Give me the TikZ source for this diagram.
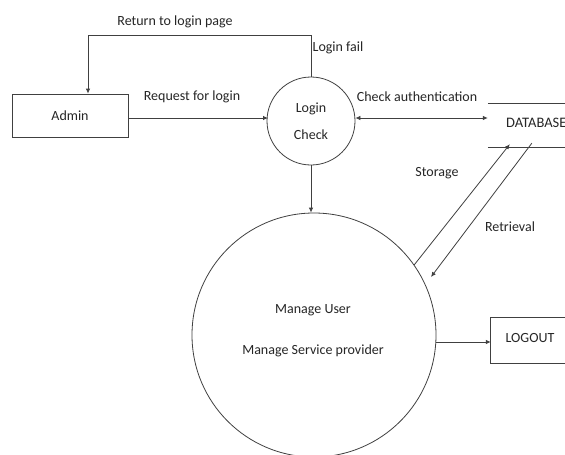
\documentclass[tikz,border=0pt]{standalone}
\usepackage{fontspec}
\setmainfont{Carlito}
\usetikzlibrary{arrows.meta}
\begin{document}
\begin{tikzpicture}[x=1pt,y=-1pt,
  every node/.style={text=black!85, font=\fontsize{14}{16}\selectfont},
  line/.style={draw=black!75, line width=0.8pt},
  arr/.style={line, -{Latex[length=5pt,width=4.5pt]}},
  darr/.style={line, {Latex[length=5pt,width=4.5pt]}-{Latex[length=5pt,width=4.5pt]}},
  lbl/.style={inner sep=0pt}]
\useasboundingbox (0,0) rectangle (565,455);
\fill[white] (0,0) rectangle (565,455);

% entities and processes
\node[line, minimum width=116pt, minimum height=43pt, inner sep=0pt] (admin) at (70,115.5) {Admin};
\node[line, circle, minimum size=88pt, inner sep=0pt, align=center,
      font=\fontsize{14}{27}\selectfont] (login) at (311,121) {Login\\Check};
\node[line, circle, minimum size=244pt, inner sep=0pt] (manage) at (314,335) {};
\node[lbl] (mu) at (313,310) {Manage User};
\node[lbl] (msp) at (313,351) {Manage Service provider};

% data store
\node[minimum width=84pt, minimum height=43pt, inner sep=0pt] (db) at (530,125.5) {};
\node[lbl, anchor=west, font=\fontsize{14.5}{16}\selectfont] (dbt) at (506,123) {DATABASE};
\draw[line] (db.north west) -- (db.north east);
\draw[line] (db.south west) -- (db.south east);

% logout
\node[minimum width=84pt, minimum height=45pt, inner sep=0pt] (logout) at (533,340.5) {};
\node[lbl] (lot) at (530,338) {LOGOUT};
\draw[line] (logout.north east) -- (logout.north west) -- (logout.south west) -- (logout.south east);

% connectors
\draw[arr] (admin.east |- 0,118) -- (268,118) coordinate (rq);
\draw[darr] (login.east |- 0,118) -- (db.west |- 0,118);
\draw[arr] (login.north) -- (311,35) coordinate (rt) -| ([xshift=18pt]admin.north);
\draw[arr] (login.south) -- (login.south |- manage.north);
\coordinate (st) at ([xshift=22pt,yshift=3pt]db.south west);
\coordinate (re) at ([xshift=44pt,yshift=4pt]db.south west);
\draw[arr] (manage.35) -- (st);
\draw[arr] (re) -- (431,277) coordinate (rei);
\draw[arr] (manage.east |- 0,342) -- (logout.west |- 0,342);

% labels
\node[lbl] (l1) at (175,22) {Return to login page};
\node[lbl] (l2) at (338,48) {Login fail};
\node[lbl] (l3) at (192,97) {Request for login};
\node[lbl] (l4) at (417,97) {Check authentication};
\node[lbl] (l5) at (437,173) {Storage};
\node[lbl] (l6) at (510,227) {Retrieval};
\end{tikzpicture}
\end{document}
